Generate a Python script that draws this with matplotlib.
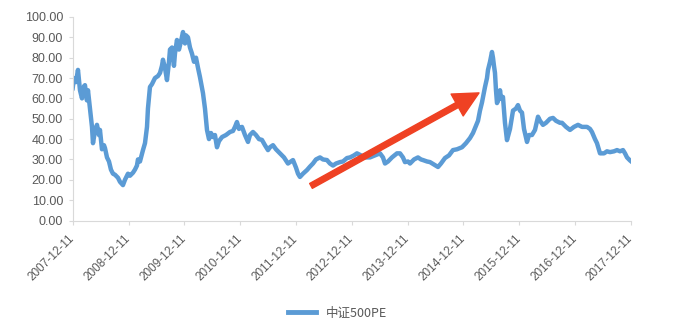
import matplotlib
matplotlib.use("Agg")
import matplotlib.pyplot as plt
from datetime import date

# ---- data (decimal year, PE) ----
years = [2007.942, 2007.965, 2008.001, 2008.037, 2008.073, 2008.109, 2008.145, 2008.162, 2008.180, 2008.198,
         2008.216, 2008.252, 2008.288, 2008.306, 2008.342, 2008.377, 2008.413, 2008.431, 2008.467, 2008.503,
         2008.521, 2008.557, 2008.593, 2008.628, 2008.664, 2008.700, 2008.754, 2008.790, 2008.843, 2008.879,
         2008.915, 2008.933, 2008.969, 2009.023, 2009.058, 2009.094, 2009.112, 2009.148, 2009.202, 2009.238,
         2009.274, 2009.291, 2009.327, 2009.363, 2009.417, 2009.471, 2009.507, 2009.542, 2009.560, 2009.596,
         2009.632, 2009.668, 2009.686, 2009.722, 2009.757, 2009.775, 2009.811, 2009.847, 2009.883, 2009.919,
         2009.955, 2009.972, 2010.008, 2010.044, 2010.080, 2010.116, 2010.152, 2010.188, 2010.223, 2010.277,
         2010.313, 2010.349, 2010.385, 2010.421, 2010.456, 2010.492, 2010.528, 2010.564, 2010.618, 2010.689,
         2010.761, 2010.815, 2010.851, 2010.886, 2010.922, 2010.976, 2011.030, 2011.084, 2011.119, 2011.173,
         2011.227, 2011.281, 2011.334, 2011.388, 2011.442, 2011.478, 2011.532, 2011.585, 2011.657, 2011.729,
         2011.800, 2011.854, 2011.890, 2011.944, 2011.980, 2012.015, 2012.069, 2012.141, 2012.195, 2012.248,
         2012.302, 2012.374, 2012.428, 2012.499, 2012.553, 2012.607, 2012.661, 2012.732, 2012.786, 2012.858,
         2012.912, 2012.983, 2013.037, 2013.109, 2013.181, 2013.270, 2013.360, 2013.449, 2013.503, 2013.539,
         2013.593, 2013.664, 2013.754, 2013.808, 2013.861, 2013.897, 2013.951, 2013.987, 2014.059, 2014.130,
         2014.184, 2014.220, 2014.292, 2014.345, 2014.417, 2014.489, 2014.542, 2014.614, 2014.686, 2014.757,
         2014.829, 2014.919, 2014.990, 2015.062, 2015.116, 2015.152, 2015.206, 2015.241, 2015.277, 2015.331,
         2015.367, 2015.385, 2015.421, 2015.456, 2015.474, 2015.492, 2015.510, 2015.528, 2015.546, 2015.582,
         2015.600, 2015.618, 2015.653, 2015.689, 2015.725, 2015.779, 2015.833, 2015.886, 2015.922, 2015.958,
         2015.994, 2016.030, 2016.084, 2016.119, 2016.173, 2016.227, 2016.281, 2016.317, 2016.370, 2016.424,
         2016.496, 2016.550, 2016.603, 2016.675, 2016.711, 2016.783, 2016.854, 2016.926, 2016.998, 2017.069,
         2017.159, 2017.213, 2017.248, 2017.302, 2017.338, 2017.392, 2017.464, 2017.517, 2017.571, 2017.643,
         2017.697, 2017.750, 2017.804, 2017.840, 2017.876, 2017.930, 2017.966]
pe = [65, 70, 68, 74, 64, 60, 66, 66.5, 63, 59,
      64, 55, 46, 38, 44, 47, 42, 44.5, 35, 37,
      35.6, 31, 29, 25, 23, 22.5, 21, 19, 17.4, 20,
      22, 23, 22, 23.5, 25, 27, 30, 29, 34.6, 38,
      46, 55, 65.6, 67, 70, 71, 72.5, 76, 79, 75,
      69, 78, 84, 85, 76, 82, 88.7, 84, 88, 92.6,
      87, 91, 90, 85, 82, 78, 80, 75, 70.5, 62.6,
      55, 44.5, 40, 43, 41, 42, 36, 39, 41, 42,
      43.5, 44, 46, 48.4, 45, 46, 42, 38.6, 42, 43.5,
      42, 40, 39.6, 37, 34.6, 36, 37, 35, 33, 31,
      28, 29, 29.7, 26, 23, 21.4, 23, 24.8, 26.5, 28,
      30, 31, 30, 29.7, 28, 27, 28, 28.7, 29, 30.7,
      31, 32, 33, 32, 31, 31, 32, 33, 31, 28,
      29, 31, 33, 33, 31, 28.7, 29, 28, 30, 31,
      30, 29.7, 29, 28.7, 27.5, 26.3, 28, 30.7, 32, 34.6,
      35, 36, 38, 40.5, 43, 45.4, 49, 54, 58, 65.6,
      70, 74, 78, 82.8, 80, 76, 72.5, 64, 57.7, 60,
      64, 60, 60.7, 48, 39.5, 45, 54, 55, 56.7, 54,
      53, 45, 38.6, 42, 42, 44.5, 51, 49, 47, 48,
      50, 50.4, 49, 48, 48, 46, 44.5, 46, 47, 46,
      46, 45, 43.5, 40, 38, 33, 33, 34, 33.6, 34,
      34.6, 34, 34.6, 33, 31, 29.5, 28.7]
tick_labels = ["2007-12-11", "2008-12-11", "2009-12-11", "2010-12-11", "2011-12-11", "2012-12-11",
               "2013-12-11", "2014-12-11", "2015-12-11", "2016-12-11", "2017-12-11"]
series_name = "中证500PE"
y_ticks = [0, 10, 20, 30, 40, 50, 60, 70, 80, 90, 100]
arrow_start = (2012.213, 17.0)
arrow_end = (2015.224, 62.7)


def dec_year(s):
    d = date.fromisoformat(s)
    return d.year + (d.timetuple().tm_yday - 1) / 365.0


tick_pos = [dec_year(s) for s in tick_labels]

plt.rcParams['font.family'] = ['Liberation Sans', 'Noto Sans CJK SC', 'DejaVu Sans']

fig = plt.figure(figsize=(6.75, 3.33), dpi=100)
ax = fig.add_axes([0.1077, 0.3378, 0.8267, 0.6112])

line_color = '#5b9bd5'
ax.plot(years, pe, color=line_color, lw=3.2, solid_joinstyle='round', label=series_name)

ax.set_xlim(tick_pos[0], tick_pos[-1])
ax.set_ylim(0, 100)
ax.set_yticks(y_ticks)
ax.set_yticklabels([f"{v:.2f}" for v in y_ticks])
ax.set_xticks(tick_pos)
ax.set_xticklabels(tick_labels, rotation=45, ha='right', va='center', rotation_mode='anchor')

grey = '#d9d9d9'
for s in ['top', 'right']:
    ax.spines[s].set_visible(False)
for s in ['left', 'bottom']:
    ax.spines[s].set_color(grey)
    ax.spines[s].set_linewidth(0.8)
ax.tick_params(axis='both', colors=grey, length=3, width=0.8, labelcolor='#595959', labelsize=9)
ax.tick_params(axis='x', pad=9, labelsize=8.5)
ax.tick_params(axis='y', pad=4)

ax.annotate('', xy=arrow_end, xytext=arrow_start,
            arrowprops=dict(arrowstyle='simple,head_width=1.8,head_length=1.8,tail_width=0.4',
                            color='#ef4123', mutation_scale=10, shrinkA=0, shrinkB=0))

leg = fig.legend(loc='center', bbox_to_anchor=(0.5, 0.06), frameon=False, handlelength=2.3,
                 prop={'family': ['Noto Sans CJK SC', 'DejaVu Sans'], 'size': 9})
for t in leg.get_texts():
    t.set_color('#595959')
for h in leg.get_lines():
    h.set_linewidth(3.5)

fig.savefig('out.png', dpi=100, facecolor='white')
